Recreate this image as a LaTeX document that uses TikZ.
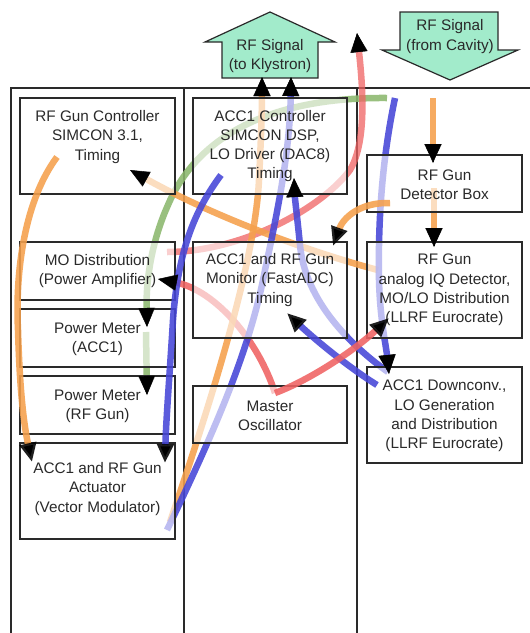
\documentclass[tikz,border=0pt]{standalone}
\usepackage{fontspec}
\setmainfont{Liberation Sans}
\usetikzlibrary{arrows.meta,calc}
\definecolor{cO}{HTML}{F5A04C}
\definecolor{cB}{HTML}{4646D8}
\definecolor{cR}{HTML}{F06262}
\definecolor{cG}{HTML}{8CB86E}
\definecolor{cT}{HTML}{A2EBCB}
\definecolor{cK}{HTML}{2A2A2A}
\begin{document}
\begin{tikzpicture}[x=1pt,y=-1pt,
  frame/.style={draw=cK, line width=1.4pt},
  bigarrow/.style={draw=cK, line width=1.2pt, fill=cT},
  box/.style={draw=cK, line width=1.3pt, fill=white, fill opacity=0.6, text opacity=1,
    minimum width=155pt, inner sep=0pt},
  lbl/.style={align=center, inner sep=0pt, font=\fontsize{15.3}{19.3}\selectfont, text=cK},
  tipend/.style={-{Triangle[length=19pt,width=16pt,color=black]}},
  ln/.style={line width=6.5pt, draw opacity=0.88, tipend},
  plain/.style={line width=6.5pt, draw opacity=0.88},
  tiponly/.style={line width=0.4pt, black, tipend}]
\useasboundingbox (0,0) rectangle (530,633);
\fill[white] (0,0) rectangle (530,633);

% frame
\draw[frame] (11,633) -- (11,88) -- (530,88);
\draw[frame] (184,88) -- (184,633);
\draw[frame] (357,88) -- (357,633);

% big RF arrows
\draw[bigarrow] (222,78) -- (222,42) -- (205,42) -- (270,12) -- (335,42) -- (318,42) -- (318,78) -- cycle;
\node[lbl] (klys) at (270,56) {RF Signal\\(to Klystron)};
\draw[bigarrow] (400,12) -- (498,12) -- (498,50) -- (518,50) -- (450,80) -- (382,50) -- (400,50) -- cycle;
\node[lbl] (cav) at (450,36.5) {RF Signal\\(from Cavity)};

% end points
\coordinate (o1s) at (57,157);  \coordinate (o1e) at (32,462);
\coordinate (o2s) at (378,270); \coordinate (o2e) at (130,170);
\coordinate (o3s) at (390,203); \coordinate (o3e) at (333,246);
\coordinate (o4s) at (433,98);  \coordinate (o4e) at (433,163);
\coordinate (o4t) at (434,188); \coordinate (o4f) at (434,247);
\coordinate (o5s) at (170,522); \coordinate (o5e) at (262,77);
\coordinate (b1s) at (388,372); \coordinate (b1e) at (294,178);
\coordinate (b2s) at (167,530); \coordinate (b2e) at (291,77);
\coordinate (b3s) at (221,175); \coordinate (b3e) at (165,463);
\coordinate (b4s) at (395,98);  \coordinate (b4e) at (389,374);
\coordinate (b5s) at (377,385); \coordinate (b5e) at (287,313);
\coordinate (ras) at (167,252); \coordinate (rae) at (357,33);
\coordinate (rbs) at (275,393); \coordinate (rbe) at (158,279);
\coordinate (rce) at (389,318);
\coordinate (g1s) at (387,98);  \coordinate (g1e) at (147,327);
\coordinate (g2s) at (146,332); \coordinate (g2e) at (147,395);

% lines under the boxes
\draw[ln, cG] (g1s) .. controls (280,97) and (200,130) .. (168,205) .. controls (150,245) and (146,285) .. (g1e);
\draw[ln, cG] (g2s) -- (g2e);
\draw[ln, cR, draw opacity=0.75] (ras) .. controls (240,252) and (320,210) .. (350,170) .. controls (368,140) and (362,80) .. (rae);
\draw[ln, cR] (rbs) .. controls (258,340) and (215,290) .. (rbe);
\draw[ln, cO] (o2s) .. controls (320,255) and (220,220) .. (o2e);
\draw[ln, cO] (o4s) -- (o4e);
\draw[ln, cO] (o4t) -- (o4f);
\draw[ln, cO] (o5s) .. controls (215,390) and (255,260) .. (259,180) .. controls (261,140) and (262,110) .. (o5e);
\draw[ln, cB] (b2s) .. controls (215,430) and (250,350) .. (265,270) .. controls (278,210) and (290,150) .. (b2e);
\draw[ln, cB] (b1s) .. controls (350,345) and (305,300) .. (300,245) .. controls (297,215) and (295,200) .. (b1e);
\draw[ln, cB] (b4s) .. controls (382,160) and (378,220) .. (379,280) .. controls (380,320) and (386,345) .. (b4e);

% boxes
\node[box, minimum height=96pt] (gunctl) at (97.5,146) {};
\node[lbl] (gunctl-t) at (97.5,137) {RF Gun Controller\\SIMCON 3.1,\\Timing};
\node[box, minimum height=96pt, minimum width=154pt] (accctl) at (270,146) {};
\node[lbl] (accctl-t) at (270,146) {ACC1 Controller\\SIMCON DSP,\\LO Driver (DAC8)\\Timing};
\node[box, minimum height=57pt] (detbox) at (444.5,183.5) {};
\node[lbl] (detbox-t) at (444.5,185) {RF Gun\\Detector Box};
\node[box, minimum height=58pt] (modist) at (97.5,271) {};
\node[lbl] (modist-t) at (97.5,271) {MO Distribution\\(Power Amplifier)};
\node[box, minimum height=96pt, minimum width=154pt] (monitor) at (270,290) {};
\node[lbl] (monitor-t) at (270,280) {ACC1 and RF Gun\\Monitor (FastADC)\\Timing};
\node[box, minimum height=96pt] (iqdet) at (444.5,290) {};
\node[lbl] (iqdet-t) at (444.5,290) {RF Gun\\analog IQ Detector,\\MO/LO Distribution\\(LLRF Eurocrate)};
\node[box, minimum height=58pt] (pmacc) at (97.5,338) {};
\node[lbl] (pmacc-t) at (97.5,339) {Power Meter\\(ACC1)};
\node[box, minimum height=58pt] (pmgun) at (97.5,405) {};
\node[lbl] (pmgun-t) at (97.5,406) {Power Meter\\(RF Gun)};
\node[box, minimum height=57pt, minimum width=154pt] (mosc) at (270,414.5) {};
\node[lbl] (mosc-t) at (270,416) {Master\\Oscillator};
\node[box, minimum height=96pt] (downconv) at (444.5,415) {};
\node[lbl] (downconv-t) at (444.5,416) {ACC1 Downconv.,\\LO Generation\\and Distribution\\(LLRF Eurocrate)};
\node[box, minimum height=96pt] (actuator) at (97.5,491) {};
\node[lbl] (actuator-t) at (97.5,489) {ACC1 and RF Gun\\Actuator\\(Vector Modulator)};

% lines above the boxes
\draw[ln, cO] (o1s) .. controls (25,200) and (15,270) .. (18,330) .. controls (20,400) and (25,430) .. (o1e);
\draw[ln, cO] (o3s) .. controls (360,202) and (343,218) .. (o3e);
\draw[ln, cB] (b3s) .. controls (195,210) and (178,250) .. (173,320) .. controls (170,370) and (166,420) .. (b3e);
\draw[ln, cB] (b5s) .. controls (345,365) and (310,335) .. (b5e);
\draw[ln, cR] (rbs) .. controls (310,380) and (355,350) .. (rce);

% arrow tips of the lower lines, on top
\draw[tiponly] ($(g1e)!1pt!(146,285)$) -- (g1e);
\draw[tiponly] ($(g2e)!1pt!(g2s)$) -- (g2e);
\draw[tiponly] ($(rae)!1pt!(362,80)$) -- (rae);
\draw[tiponly] ($(rbe)!1pt!(215,290)$) -- (rbe);
\draw[tiponly] ($(o2e)!1pt!(220,220)$) -- (o2e);
\draw[tiponly] ($(o4e)!1pt!(o4s)$) -- (o4e);
\draw[tiponly] ($(o4f)!1pt!(o4t)$) -- (o4f);
\draw[tiponly] ($(o5e)!1pt!(262,110)$) -- (o5e);
\draw[tiponly] ($(b2e)!1pt!(290,150)$) -- (b2e);
\draw[tiponly] ($(b1e)!1pt!(295,200)$) -- (b1e);
\draw[tiponly] ($(b4e)!1pt!(386,345)$) -- (b4e);
\end{tikzpicture}
\end{document}
